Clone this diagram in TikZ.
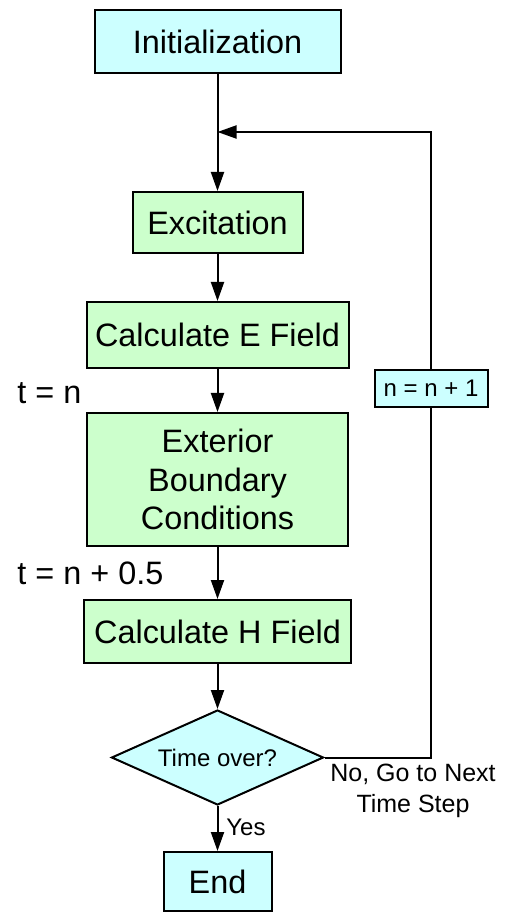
\documentclass[tikz,border=0pt]{standalone}
\usepackage{fontspec}
\setmainfont{Liberation Sans}
\usetikzlibrary{arrows.meta,shapes.geometric}
\definecolor{boxcyan}{HTML}{CCFFFF}
\definecolor{boxgreen}{HTML}{CCFFCC}
\begin{document}
\begin{tikzpicture}[x=0.5pt,y=-0.5pt,
  every node/.style={inner sep=0pt},
  bigtext/.style={font=\fontsize{16.2}{19.3}\selectfont, align=center},
  cyanbox/.style={draw=black, line width=1pt, fill=boxcyan, bigtext},
  greenbox/.style={draw=black, line width=1pt, fill=boxgreen, bigtext},
  flow/.style={line width=1pt, -{Triangle[length=9.5pt,width=6.5pt]}},
  plain/.style={line width=1pt},
  smalltext/.style={font=\fontsize{12}{15.5}\selectfont, align=center}]
\useasboundingbox (0,0) rectangle (504,913);
\node[cyanbox, minimum width=123pt, minimum height=31.5pt] (init) at (217.5,41.5) {Initialization};
\node[greenbox, minimum width=85pt, minimum height=30.5pt] (exc) at (217.5,222.5) {Excitation};
\node[greenbox, minimum width=131pt, minimum height=33pt] (efield) at (217.5,335) {Calculate E Field};
\node[greenbox, minimum width=130.5pt, minimum height=66.5pt] (ext) at (217.5,479.5) {Exterior\\Boundary\\Conditions};
\node[greenbox, minimum width=133.5pt, minimum height=31.5pt] (hfield) at (217.5,631.5) {Calculate H Field};
\node[diamond, draw=black, line width=1pt, fill=boxcyan, aspect=2.2, minimum width=106pt, minimum height=47.5pt, smalltext] (dec) at (217.5,757.5) {Time over?};
\node[cyanbox, minimum width=54pt, minimum height=29.5pt] (endn) at (217.5,881.5) {End};
\node[draw=black, line width=1pt, fill=boxcyan, smalltext, minimum width=56.5pt, minimum height=18.5pt] (inc) at (431,388.5) {n = n + 1};
\coordinate (join) at (217.5,132);
\coordinate (corner) at (431,757.5);
\node[bigtext, anchor=west] (tn) at (17,393) {t = n};
\node[bigtext, anchor=west] (tnh) at (17,573) {t = n + 0.5};
\node[smalltext, anchor=west] (yes) at (226,827) {Yes};
\node[font=\fontsize{12.5}{15.5}\selectfont, align=center] (no) at (413,790.5) {No, Go to Next\\Time Step};
\draw[flow] (init) -- (exc);
\draw[flow] (exc) -- (efield);
\draw[flow] (efield) -- (ext);
\draw[flow] (ext) -- (hfield);
\draw[flow] (hfield.south) -- (dec.north);
\draw[flow] (dec.south) -- (endn.north);
\draw[plain] (dec.east) -- (corner) -- (inc.south);
\draw[flow] (inc.north) |- (join);
\end{tikzpicture}
\end{document}
